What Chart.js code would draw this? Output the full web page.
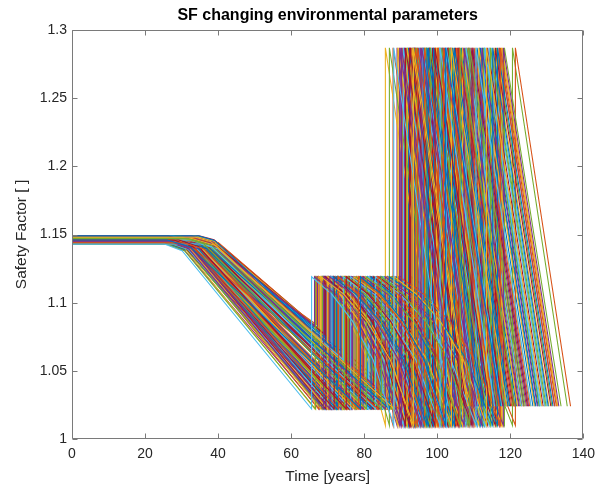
<!DOCTYPE html>
<html>
<head>
<meta charset="utf-8">
<script src="https://cdn.jsdelivr.net/npm/chart.js@4.4.1/dist/chart.umd.min.js"></script>
<style>
  html, body { margin: 0; padding: 0; background: #fff; }
  #c { display: block; }
</style>
</head>
<body>
<canvas id="c" width="602" height="488"></canvas>
<script>
// Axis ticks
const xTicks = [0, 20, 40, 60, 80, 100, 120, 140];
const yTicks = [1, 1.05, 1.1, 1.15, 1.2, 1.25, 1.3];
const yTickLabels = ['1', '1.05', '1.1', '1.15', '1.2', '1.25', '1.3'];

// Safety-factor levels shared by all runs
const firstRepairLevel = 1.119;   // level after the first intervention
const secondLowLevel = 1.010;     // level reached before the second intervention
const secondRepairLevel = 1.287;  // level after the second intervention
const finalLevel = 1.024;         // level at the end of each run

// Per-run values (one entry per simulated run)
const startLevel = [
  1.146, 1.144, 1.148, 1.145, 1.147, 1.143, 1.146, 1.149, 1.144, 1.147,
  1.145, 1.148, 1.143, 1.146, 1.144, 1.147, 1.145, 1.148, 1.143, 1.146,
  1.149, 1.144, 1.147, 1.145, 1.148, 1.143, 1.146, 1.144, 1.147, 1.145,
  1.148, 1.143, 1.146, 1.149, 1.144, 1.147, 1.145, 1.148, 1.143, 1.146,
  1.144, 1.147, 1.145, 1.148, 1.143, 1.146, 1.149, 1.144, 1.147, 1.145,
  1.148, 1.143, 1.146, 1.144, 1.147, 1.145, 1.148, 1.143, 1.146, 1.149,
  1.144, 1.147, 1.145, 1.148, 1.143, 1.146, 1.144, 1.147, 1.145, 1.148,
  1.143, 1.146, 1.149, 1.144, 1.147, 1.145, 1.148, 1.143, 1.146, 1.144,
  1.147, 1.145, 1.148, 1.143, 1.146, 1.149, 1.144, 1.147, 1.145, 1.148,
  1.143, 1.146, 1.144, 1.147, 1.145, 1.148, 1.143, 1.146, 1.149, 1.144,
  1.147, 1.145, 1.148, 1.143, 1.146, 1.144, 1.147, 1.145, 1.148, 1.143,
  1.146, 1.144, 1.147, 1.149, 1.148, 1.143, 1.146, 1.145, 1.144, 1.147,
  1.145, 1.148, 1.144, 1.147, 1.143, 1.146, 1.149, 1.145, 1.147, 1.144,
  1.148, 1.143, 1.146, 1.149, 1.145, 1.147, 1.144, 1.148, 1.143, 1.146,
  1.147, 1.145, 1.148, 1.144, 1.146, 1.143, 1.149, 1.145, 1.147, 1.144,
  1.148, 1.146, 1.143, 1.147, 1.145, 1.148, 1.144, 1.146, 1.149, 1.145
];
const declineStart = [
  26.0, 30.5, 33.8, 27.4, 31.9, 25.3, 29.2, 34.6, 28.3, 32.7,
  26.8, 30.1, 35.2, 27.9, 31.4, 25.7, 29.8, 33.3, 28.9, 32.2,
  26.4, 30.9, 34.1, 27.1, 31.6, 25.9, 29.5, 35.7, 28.6, 32.9,
  26.2, 30.3, 33.6, 27.7, 31.1, 25.5, 29.0, 34.9, 28.1, 32.4,
  26.6, 30.7, 33.9, 27.3, 31.8, 25.1, 29.6, 35.4, 28.4, 32.0,
  26.9, 30.0, 34.3, 27.6, 31.3, 25.8, 29.3, 33.1, 28.7, 32.6,
  26.3, 30.6, 35.0, 27.0, 31.5, 25.6, 29.9, 34.4, 28.2, 32.3,
  26.5, 30.2, 33.7, 27.8, 31.2, 25.2, 29.4, 35.5, 28.8, 32.8,
  26.1, 30.8, 34.0, 27.2, 31.7, 25.4, 29.7, 33.5, 28.5, 32.1,
  26.7, 30.4, 34.7, 27.5, 31.0, 25.0, 29.1, 35.9, 28.0, 32.5,
  26.0, 30.0, 33.2, 27.9, 31.9, 25.6, 29.3, 34.5, 28.6, 32.0,
  26.8, 30.5, 33.0, 32.9, 31.4, 25.9, 29.8, 27.3, 28.3, 31.6,
  28.9, 31.2, 34.2, 27.6, 30.3, 29.0, 32.4, 28.1, 33.6, 30.9,
  27.4, 31.5, 29.7, 32.2, 35.1, 28.3, 30.1, 27.8, 31.0, 29.4,
  33.4, 28.7, 30.6, 27.2, 32.0, 28.4, 34.8, 31.3, 29.0, 30.8,
  27.9, 32.7, 29.5, 33.9, 28.0, 31.6, 30.2, 28.8, 32.3, 27.5
];
const firstRepairTime = [
  79.0, 78.4, 68.2, 70.6, 84.7, 65.6, 75.1, 71.5, 73.0, 88.2,
  68.9, 80.6, 74.3, 71.8, 86.9, 83.8, 77.2, 66.4, 74.6, 83.1,
  69.5, 81.9, 72.8, 70.0, 85.8, 66.7, 76.3, 69.1, 72.4, 89.5,
  68.1, 79.7, 75.6, 71.2, 84.0, 72.7, 74.9, 67.6, 73.7, 87.5,
  69.8, 82.5, 73.4, 70.3, 86.2, 86.4, 77.8, 70.9, 75.9, 88.8,
  78.6, 80.2, 76.8, 72.1, 85.1, 71.0, 78.9, 66.9, 74.0, 89.9,
  68.6, 81.3, 72.6, 70.8, 83.6, 66.5, 76.7, 68.5, 73.3, 87.9,
  69.2, 79.2, 74.8, 71.6, 85.4, 81.1, 77.5, 70.4, 75.4, 89.1,
  68.4, 82.9, 71.9, 69.6, 84.4, 67.5, 78.1, 67.2, 74.2, 86.6,
  70.1, 80.9, 75.2, 72.9, 83.4, 75.7, 76.0, 69.4, 73.5, 88.5,
  68.8, 82.2, 73.1, 71.4, 86.0, 88.0, 79.5, 70.7, 76.5, 90.1,
  69.0, 81.6, 77.1, 93.0, 87.2, 67.7, 92.6, 72.3, 80.0, 84.9,
  77.9, 84.2, 69.9, 73.9, 86.5, 71.3, 82.7, 76.1, 73.8, 88.0,
  72.7, 81.0, 78.8, 85.6, 71.7, 75.0, 83.8, 70.5, 87.7, 79.9,
  76.2, 74.4, 89.3, 71.0, 82.0, 77.3, 68.8, 85.0, 75.8, 83.0,
  72.2, 87.0, 80.4, 74.6, 73.6, 84.6, 81.8, 78.0, 86.3, 69.3
];
const firstRepairFrom = [
  1.022, 1.022, 1.072, 1.022, 1.022, 1.022, 1.022, 1.066, 1.022, 1.022,
  1.022, 1.022, 1.058, 1.022, 1.022, 1.022, 1.022, 1.083, 1.022, 1.022,
  1.022, 1.022, 1.062, 1.022, 1.022, 1.022, 1.022, 1.077, 1.022, 1.022,
  1.022, 1.022, 1.051, 1.022, 1.022, 1.022, 1.022, 1.080, 1.022, 1.022,
  1.022, 1.022, 1.065, 1.022, 1.022, 1.022, 1.022, 1.070, 1.022, 1.022,
  1.022, 1.022, 1.047, 1.022, 1.022, 1.022, 1.022, 1.084, 1.022, 1.022,
  1.022, 1.022, 1.064, 1.022, 1.022, 1.022, 1.022, 1.079, 1.022, 1.022,
  1.022, 1.022, 1.055, 1.022, 1.022, 1.022, 1.022, 1.073, 1.022, 1.022,
  1.022, 1.022, 1.068, 1.022, 1.022, 1.022, 1.022, 1.081, 1.022, 1.022,
  1.022, 1.022, 1.053, 1.022, 1.022, 1.022, 1.022, 1.076, 1.022, 1.022,
  1.022, 1.022, 1.061, 1.022, 1.022, 1.022, 1.022, 1.071, 1.022, 1.022,
  1.022, 1.022, 1.045, 1.022, 1.022, 1.022, 1.022, 1.022, 1.022, 1.022,
  1.022, 1.022, 1.074, 1.022, 1.022, 1.022, 1.022, 1.022, 1.059, 1.022,
  1.022, 1.022, 1.022, 1.022, 1.069, 1.022, 1.022, 1.022, 1.022, 1.022,
  1.049, 1.022, 1.022, 1.022, 1.022, 1.022, 1.078, 1.022, 1.022, 1.022,
  1.022, 1.022, 1.022, 1.057, 1.022, 1.022, 1.022, 1.022, 1.022, 1.022
];
const secondRepairTime = [
  102.3, 101.7, 93.5, 95.8, 108.9, 88.1, 99.4, 97.2, 94.6, 113.5,
  90.2, 106.3, 100.8, 92.4, 115.2, 106.0, 103.9, 89.7, 98.1, 110.6,
  91.3, 104.7, 96.5, 93.1, 112.2, 86.9, 102.5, 92.9, 97.6, 117.3,
  89.2, 107.4, 101.2, 96.0, 109.5, 96.2, 100.3, 91.8, 95.3, 114.6,
  90.7, 105.8, 99.0, 94.0, 111.4, 109.8, 103.3, 95.1, 98.7, 116.5,
  100.1, 106.9, 102.1, 96.9, 113.0, 93.4, 104.2, 90.5, 99.8, 118.1,
  91.6, 107.9, 97.9, 93.7, 110.1, 85.8, 101.5, 94.3, 98.4, 115.9,
  92.1, 105.3, 100.0, 95.6, 112.7, 103.4, 102.9, 93.3, 99.2, 117.8,
  90.0, 108.4, 96.3, 94.8, 111.8, 87.9, 104.5, 91.0, 97.4, 114.2,
  92.7, 106.6, 103.6, 96.7, 109.2, 97.8, 100.6, 93.9, 98.9, 116.9,
  89.5, 107.1, 97.0, 95.0, 113.8, 112.4, 103.0, 95.9, 101.0, 118.4,
  91.1, 105.0, 102.7, 121.4, 115.5, 89.0, 120.6, 94.5, 108.1, 110.9,
  100.4, 109.7, 92.3, 97.1, 114.9, 93.8, 106.1, 101.9, 99.6, 117.0,
  95.4, 104.0, 103.7, 111.6, 96.1, 98.3, 108.7, 91.9, 113.3, 105.6,
  101.4, 99.5, 117.6, 94.2, 107.7, 102.3, 92.6, 112.9, 100.7, 110.4,
  96.6, 116.2, 104.9, 98.2, 97.8, 108.6, 106.8, 103.1, 114.4, 90.9
];
const endTime = [
  117.4, 116.9, 108.6, 110.9, 124.1, 103.0, 114.5, 112.3, 109.8, 128.7,
  105.4, 121.2, 115.7, 107.5, 130.4, 121.1, 119.0, 104.9, 113.3, 125.7,
  106.2, 119.8, 111.7, 108.3, 127.4, 101.9, 117.6, 108.0, 112.8, 132.6,
  104.3, 122.5, 116.4, 111.1, 124.7, 111.3, 115.4, 106.9, 110.5, 129.8,
  105.9, 121.0, 114.1, 109.2, 126.6, 125.0, 118.5, 110.2, 113.9, 131.7,
  115.3, 122.0, 117.3, 112.0, 128.2, 108.6, 119.4, 105.6, 114.9, 133.3,
  106.7, 123.1, 113.0, 108.8, 125.3, 100.9, 116.6, 109.4, 113.6, 131.1,
  107.2, 120.4, 115.2, 110.7, 127.9, 118.6, 118.0, 108.5, 114.3, 133.0,
  105.2, 123.6, 111.4, 109.9, 127.0, 103.1, 119.6, 106.1, 112.5, 129.4,
  107.9, 121.7, 118.8, 111.9, 124.4, 112.9, 115.8, 109.0, 114.0, 132.1,
  104.6, 122.3, 112.2, 110.1, 129.0, 127.6, 118.2, 111.0, 116.1, 133.9,
  106.4, 120.1, 117.8, 136.5, 130.6, 104.1, 135.6, 109.6, 123.2, 126.2,
  115.5, 124.9, 107.4, 112.3, 130.1, 108.9, 121.3, 117.0, 114.7, 132.2,
  110.6, 119.1, 118.9, 126.8, 111.2, 113.4, 123.8, 107.0, 128.5, 120.7,
  116.5, 114.6, 132.8, 109.3, 122.8, 117.5, 107.7, 128.0, 115.9, 125.6,
  111.8, 131.4, 120.0, 113.4, 112.9, 123.7, 121.9, 118.3, 129.5, 106.0
];

// Typical curve shapes: [fraction of the phase duration, fraction of the drop]
const declineShape = [[0, 0], [0.12, 0.04], [1, 1]];
const recoveryShape = [[0, 0], [0.25, 0.12], [0.5, 0.3], [0.75, 0.56], [1, 1]];

// Default line colour order
const palette = ['#0072BD', '#D95319', '#EDB120', '#7E2F8E', '#77AC30', '#4DBEEE', '#A2142F'];

const FONT = 'Liberation Sans, Arial, Helvetica, sans-serif';
const TEXT_COLOR = '#262626';
const AXIS_COLOR = '#7a7a7a';

function runPath(i) {
  const y0 = startLevel[i];
  const a = declineStart[i];
  const b = firstRepairTime[i];
  const yb = firstRepairFrom[i];
  const c = secondRepairTime[i];
  const d = endTime[i];
  const pts = [{ x: 0, y: y0 }, { x: a, y: y0 }];
  declineShape.slice(1, -1).forEach(([ft, fy]) =>
    pts.push({ x: a + ft * (b - a), y: y0 - fy * (y0 - yb) }));
  pts.push({ x: b, y: yb }, { x: b, y: firstRepairLevel });
  recoveryShape.slice(1, -1).forEach(([ft, fy]) =>
    pts.push({ x: b + ft * (c - b), y: firstRepairLevel - fy * (firstRepairLevel - secondLowLevel) }));
  pts.push({ x: c, y: secondLowLevel }, { x: c, y: secondRepairLevel }, { x: d, y: finalLevel });
  return pts;
}

const datasets = startLevel.map((_, i) => ({
  data: runPath(i),
  borderColor: palette[i % palette.length],
  borderWidth: 1.1,
  pointRadius: 0,
  fill: false,
  tension: 0
}));

// Box around the plot area with inward tick marks on all four sides
const frame = {
  id: 'frame',
  afterDraw(chart) {
    const { ctx, chartArea: ca, scales: { x, y } } = chart;
    const L = Math.round(ca.left) + 0.5, R = Math.round(ca.right) - 0.5;
    const T = Math.round(ca.top) + 0.5, B = Math.round(ca.bottom) - 0.5;
    const len = 5;
    ctx.save();
    ctx.strokeStyle = AXIS_COLOR;
    ctx.lineWidth = 1;
    ctx.beginPath();
    ctx.rect(L, T, R - L, B - T);
    x.ticks.forEach(t => {
      const px = Math.round(x.getPixelForValue(t.value)) + 0.5;
      ctx.moveTo(px, B); ctx.lineTo(px, B - len);
      ctx.moveTo(px, T); ctx.lineTo(px, T + len);
    });
    y.ticks.forEach(t => {
      const py = Math.round(y.getPixelForValue(t.value)) + 0.5;
      ctx.moveTo(L, py); ctx.lineTo(L + len, py);
      ctx.moveTo(R, py); ctx.lineTo(R - len, py);
    });
    ctx.stroke();
    ctx.restore();
  }
};

new Chart(document.getElementById('c'), {
  type: 'line',
  data: { datasets },
  options: {
    responsive: false,
    animation: false,
    events: [],
    parsing: false,
    layout: { padding: { left: 0, right: 14, top: 0, bottom: 0 } },
    plugins: {
      legend: { display: false },
      tooltip: { enabled: false },
      title: {
        display: true,
        text: 'SF changing environmental parameters',
        fullSize: false,
        color: '#000',
        font: { family: FONT, size: 16, weight: 'bold', lineHeight: 1.2 },
        padding: { top: 6, bottom: 4.8 }
      }
    },
    scales: {
      x: {
        type: 'linear',
        min: 0,
        max: 140,
        grid: { display: false, drawTicks: false },
        border: { display: false },
        afterBuildTicks: s => { s.ticks = xTicks.map(v => ({ value: v })); },
        afterFit: s => { s.height = 49; },
        ticks: {
          color: TEXT_COLOR,
          font: { family: FONT, size: 14 },
          padding: 7,
          maxRotation: 0,
          autoSkip: false
        },
        title: {
          display: true,
          text: 'Time [years]',
          color: TEXT_COLOR,
          font: { family: FONT, size: 15.5, lineHeight: 1.2 },
          padding: { top: 0, bottom: 1.7 }
        }
      },
      y: {
        type: 'linear',
        min: 1,
        max: 1.3,
        grid: { display: false, drawTicks: false },
        border: { display: false },
        afterBuildTicks: s => { s.ticks = yTicks.map(v => ({ value: v })); },
        afterFit: s => { s.width = 72; },
        ticks: {
          color: TEXT_COLOR,
          font: { family: FONT, size: 14 },
          padding: 5,
          autoSkip: false,
          callback: (v, i) => yTickLabels[i]
        },
        title: {
          display: true,
          text: 'Safety Factor [ ]',
          color: TEXT_COLOR,
          font: { family: FONT, size: 15.5, lineHeight: 1.2 },
          padding: { top: 12.7, bottom: 0 }
        }
      }
    }
  },
  plugins: [frame]
});
</script>
</body>
</html>
